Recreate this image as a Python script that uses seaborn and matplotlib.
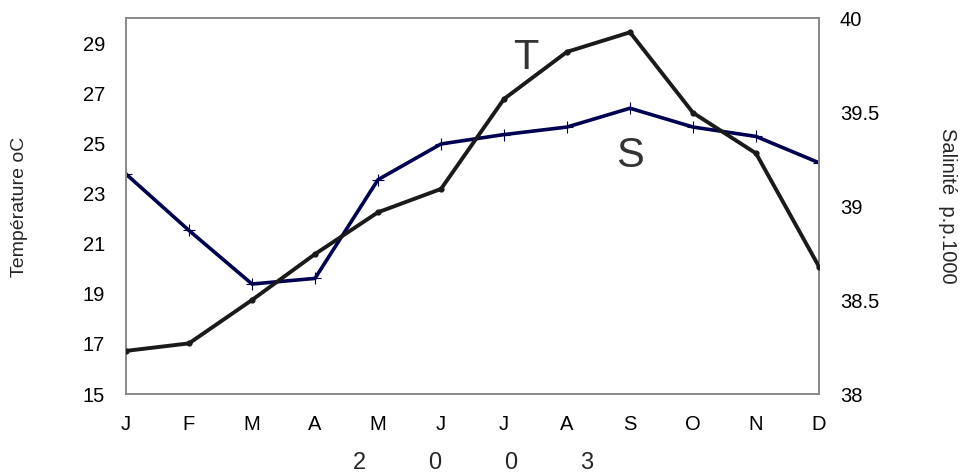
import matplotlib
matplotlib.use("Agg")
import matplotlib.pyplot as plt
import seaborn as sns
import pandas as pd

months = ["J", "F", "M", "A", "M", "J", "J", "A", "S", "O", "N", "D"]
temperature = [16.72, 17.02, 18.75, 20.58, 22.25, 23.18, 26.77, 28.65, 29.43, 26.22, 24.6, 20.08]
salinity = [39.17, 38.87, 38.585, 38.615, 39.14, 39.33, 39.38, 39.42, 39.52, 39.42, 39.37, 39.23]
left_ticks = [15, 17, 19, 21, 23, 25, 27, 29]
right_ticks = [38, 38.5, 39, 39.5, 40]
right_ticklabels = ["38", "38.5", "39", "39.5", "40"]

sns.set_style("white")
plt.rcParams['font.family'] = ['Liberation Sans', 'DejaVu Sans']

df = pd.DataFrame({"idx": list(range(len(months))), "T": temperature, "S": salinity})

fig = plt.figure(figsize=(9.61, 4.76), dpi=100)
ax = fig.add_axes([126/961, 1 - 394/476, (819-126)/961, (394-18)/476])
ax2 = ax.twinx()

sns.lineplot(data=df, x="idx", y="S", ax=ax2, color="#000050", linewidth=2.6,
             marker="+", markersize=9, markeredgewidth=0.8, markeredgecolor="#000050")
sns.lineplot(data=df, x="idx", y="T", ax=ax, color="#1a1a1a", linewidth=2.8,
             marker="o", markersize=4.5, markeredgewidth=0, zorder=5)
ax.set_zorder(ax2.get_zorder() + 1)
ax.patch.set_visible(False)

ax.set_xlim(0, 11)
ax.set_ylim(15, 30)
ax2.set_ylim(38, 40)
ax.set_xticks(range(len(months)))
ax.set_xticklabels(months, fontsize=14.5)
ax.set_yticks(left_ticks)
ax.set_yticklabels([str(v) for v in left_ticks], fontsize=14.5)
ax2.set_yticks(right_ticks)
ax2.set_yticklabels(right_ticklabels, fontsize=14.5)

ax.tick_params(axis="both", length=0, pad=15, colors="black")
ax2.tick_params(axis="y", length=0, pad=15, colors="black")

for a in (ax, ax2):
    for s in a.spines.values():
        s.set_color("#888888")
        s.set_linewidth(1.2)

ax.set_xlabel("")
ax.set_ylabel("")
ax2.set_ylabel("")

fig.text(20/961, 1 - 207/476, "Température oC", rotation=90, ha="center", va="center", fontsize=14)
fig.text(947/961, 1 - 206/476, "Salinité  p.p.1000", rotation=-90, ha="center", va="center", fontsize=14.5)
for ch, xp in zip(["2", "0", "0", "3"], [359, 435, 511, 587]):
    fig.text(xp/961, 1 - 463/476, ch, ha="center", va="center", fontsize=17)

ax.text(6.35, 28.4, "T", fontsize=30, color="#333333", ha="center", va="center")
ax.text(8.0, 24.5, "S", fontsize=30, color="#333333", ha="center", va="center")

fig.savefig("out.png", dpi=100)
